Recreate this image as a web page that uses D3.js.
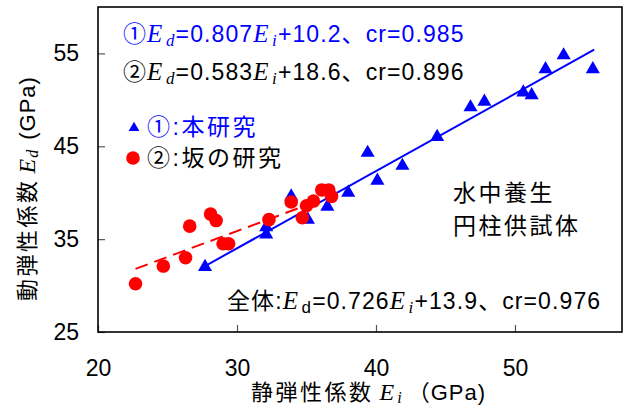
<!DOCTYPE html>
<html><head><meta charset="utf-8">
<script src="https://cdn.jsdelivr.net/npm/d3@7"></script>
<style>
body{margin:0;background:#fff}
text{font-family:"Liberation Sans","Noto Sans CJK JP",sans-serif}
.it{font-family:"Liberation Serif","DejaVu Serif",serif;font-style:italic}
</style></head><body>
<svg id="c" width="624" height="405"></svg>
<script>
// ① 本研究 (blue triangles): static modulus Ei, dynamic modulus Ed
const studyEi = [27.7,32.1,32.1,33.9,35.1,36.5,38.0,39.4,40.1,41.9,44.4,46.8,47.8,50.6,51.2,52.2,53.5,55.6];
const studyEd = [32.0,35.5,36.3,39.6,37.1,38.5,40.0,44.3,41.3,42.9,46.0,49.2,49.8,50.8,50.5,53.3,54.8,53.3];
// ② 坂の研究 (red circles)
const sakaEi = [22.7,24.7,26.3,26.6,28.1,28.5,29.0,29.4,32.3,33.9,34.7,35.0,35.5,36.1,36.6,36.8];
const sakaEd = [30.2,32.1,33.0,36.4,37.7,37.0,34.5,34.5,37.1,39.0,37.3,38.6,39.1,40.3,40.3,39.6];
// fitted lines as drawn: [Ei start, Ed start, Ei end, Ed end]
const fitStudy = [27.7,32.1,55.7,55.4];
const fitSaka = [22.7,31.8,34.9,38.6];
const xTicks = [20,30,40,50];
const yTicks = [25,35,45,55];
const xDomain = [20,57.7];
const yDomain = [25,60];

const svg = d3.select("#c");
const L=98,R=622,T=7,B=332;
const x = d3.scaleLinear().domain(xDomain).range([L,R]);
const y = d3.scaleLinear().domain(yDomain).range([B,T]);
const blue="#0000ff", red="#ff0000";

// axes
const gx = svg.append("g").attr("transform",`translate(0,${B})`)
  .call(d3.axisBottom(x).tickValues(xTicks).tickSize(-7).tickPadding(28).tickFormat(d3.format("d")));
const gy = svg.append("g").attr("transform",`translate(${L},0)`)
  .call(d3.axisLeft(y).tickValues(yTicks).tickSize(-7).tickPadding(19).tickFormat(d3.format("d")));
[gx,gy].forEach(g=>{
  g.select(".domain").remove();
  g.selectAll(".tick line").attr("stroke","#555").attr("stroke-width",1.2);
  g.selectAll(".tick text").attr("font-size",23).attr("fill","#000")
   .style("font-family",'"Liberation Sans",sans-serif');
});

// frame
svg.append("rect").attr("x",L).attr("y",T).attr("width",R-L).attr("height",B-T)
  .attr("fill","none").attr("stroke","#000").attr("stroke-width",1.6);

// fit lines
svg.append("line").attr("x1",x(fitSaka[0])).attr("y1",y(fitSaka[1])).attr("x2",x(fitSaka[2])).attr("y2",y(fitSaka[3]))
  .attr("stroke",red).attr("stroke-width",2).attr("stroke-dasharray","13,7");
svg.append("line").attr("x1",x(fitStudy[0])).attr("y1",y(fitStudy[1])).attr("x2",x(fitStudy[2])).attr("y2",y(fitStudy[3]))
  .attr("stroke",blue).attr("stroke-width",2);

// points
const tri = d3.symbol().type(d3.symbolTriangle).size(86);
svg.append("g").selectAll("path").data(studyEi).join("path")
  .attr("d",tri).attr("fill",blue)
  .attr("transform",(d,i)=>`translate(${x(d)},${y(studyEd[i])})`);
svg.append("g").selectAll("circle").data(sakaEi).join("circle")
  .attr("cx",d=>x(d)).attr("cy",(d,i)=>y(sakaEd[i])).attr("r",6.8).attr("fill",red);

// equation text helper
function eq(tx,ty,color,parts,size){
  const t = svg.append("text").attr("x",tx).attr("y",ty).attr("fill",color)
    .attr("font-size",size).attr("letter-spacing",1.1);
  parts.forEach(p=>{
    const s = t.append("tspan").text(p.t);
    if(p.it) s.attr("class","it").attr("font-size",size+2);
    if(p.sub){ s.attr("font-size",size-6).attr("dy",4).attr("dx",2.5); }
    if(p.up){ s.attr("dy",-4); }
  });
  return t;
}
eq(123,42,blue,[{t:"①"},{t:"E",it:1},{t:"d",it:1,sub:1},{t:"=0.807",up:1},{t:"E",it:1},{t:"i",it:1,sub:1},{t:"+10.2、cr=0.985",up:1}],23);
eq(123,80,"#000",[{t:"②"},{t:"E",it:1},{t:"d",it:1,sub:1},{t:"=0.583",up:1},{t:"E",it:1},{t:"i",it:1,sub:1},{t:"+18.6、cr=0.896",up:1}],23);
eq(227,309,"#000",[{t:"全体:"},{t:"E",it:1},{t:"d",sub:1},{t:"=0.726",up:1},{t:"E",it:1},{t:"i",it:1,sub:1},{t:"+13.9、cr=0.976",up:1}],23);

// legend
svg.append("path").attr("d",d3.symbol().type(d3.symbolTriangle).size(50)).attr("fill",blue)
  .attr("transform","translate(134,128)");
svg.append("text").attr("x",147).attr("y",135).attr("fill",blue).attr("font-size",23).attr("letter-spacing",2.5).text("①:本研究");
svg.append("circle").attr("cx",133).attr("cy",158).attr("r",6.8).attr("fill",red);
svg.append("text").attr("x",147).attr("y",166).attr("fill","#000").attr("font-size",23).attr("letter-spacing",2.5).text("②:坂の研究");

// annotation
svg.append("text").attr("x",453).attr("y",201).attr("font-size",23).attr("letter-spacing",2.5).text("水中養生");
svg.append("text").attr("x",453).attr("y",234).attr("font-size",23).attr("letter-spacing",2.5).text("円柱供試体");

// axis titles
const xt = svg.append("text").attr("x",251).attr("y",400).attr("font-size",22);
xt.append("tspan").attr("letter-spacing",2.5).text("静弾性係数");
xt.append("tspan").attr("class","it").attr("font-size",24).attr("dx",6).text("E");
xt.append("tspan").attr("class","it").attr("font-size",16).attr("dx",3).attr("dy",3).text("i");
xt.append("tspan").attr("dy",-3).attr("dx",6).attr("letter-spacing",1).text("（GPa)");
const yt = svg.append("text").attr("transform","translate(35,301) rotate(-90)").attr("font-size",22);
yt.append("tspan").attr("letter-spacing",2.5).text("動弾性係数");
yt.append("tspan").attr("class","it").attr("font-size",24).attr("dx",5).text("E");
yt.append("tspan").attr("class","it").attr("font-size",16).attr("dx",1).attr("dy",3).text("d");
yt.append("tspan").attr("dy",-3).attr("dx",10).attr("letter-spacing",1).text("(GPa)");
</script></body></html>
